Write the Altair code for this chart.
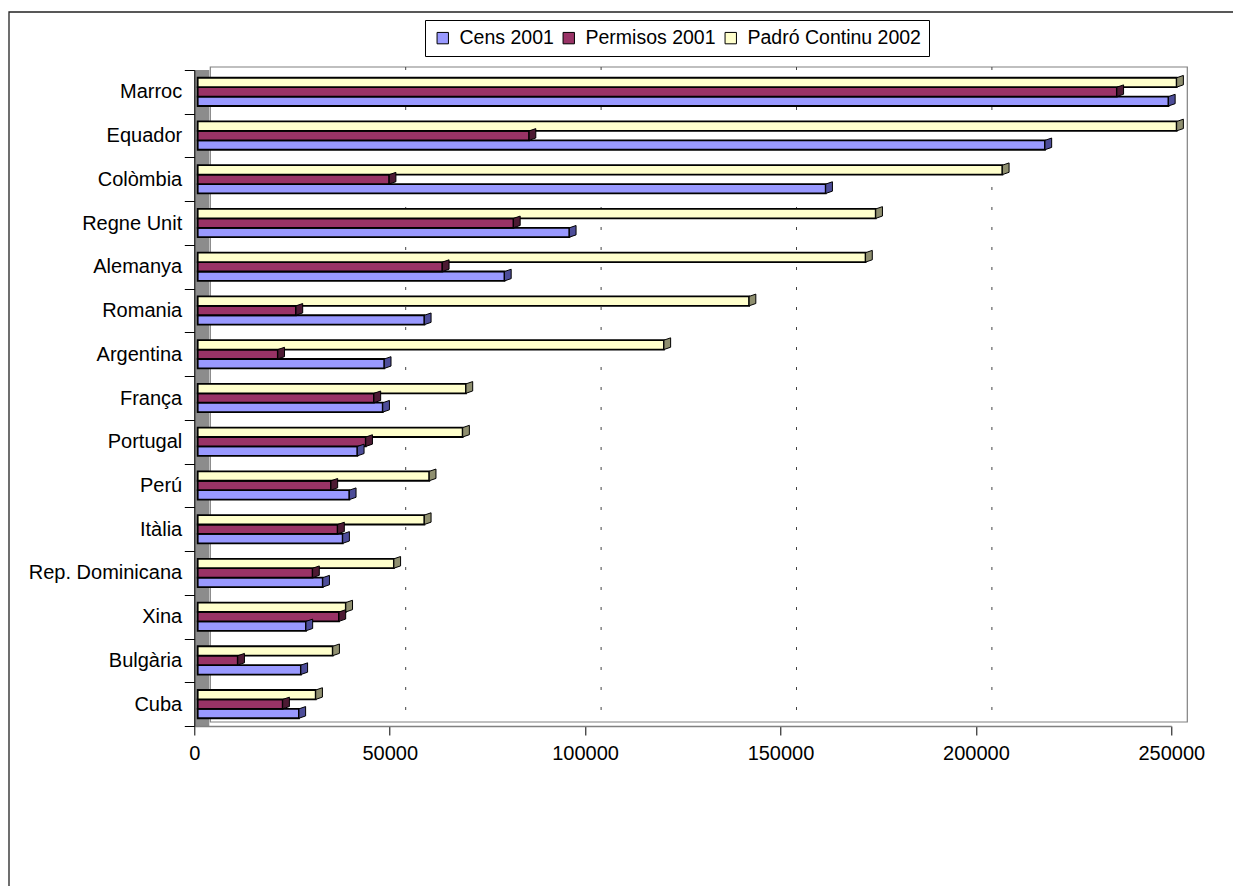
import altair as alt
import pandas as pd

countries = ["Marroc", "Equador", "Colòmbia", "Regne Unit", "Alemanya", "Romania",
             "Argentina", "França", "Portugal", "Perú", "Itàlia", "Rep. Dominicana",
             "Xina", "Bulgària", "Cuba"]
series_names = ["Cens 2001", "Permisos 2001", "Padró Continu 2002"]
cens = [248400, 216800, 160700, 95100, 78500, 58000, 47750, 47350, 40850, 38800,
        37100, 32000, 27700, 26400, 25900]
permisos = [235200, 84800, 49000, 80800, 62600, 25150, 20500, 45100, 43000, 34100,
            35800, 29400, 36150, 10250, 21750]
padro = [250500, 250500, 205900, 173500, 170900, 141100, 119300, 68650, 67800, 59250,
         58000, 50200, 37900, 34550, 30200]
x_ticks = [0, 50000, 100000, 150000, 200000, 250000]
grid_ticks = [50000, 100000, 150000, 200000]

rows = []
for name, vals in zip(series_names, [cens, permisos, padro]):
    for c, v in zip(countries, vals):
        rows.append({"country": c, "series": name, "value": v})
df = pd.DataFrame(rows)
grid_df = pd.DataFrame({"value": grid_ticks})
one = pd.DataFrame({"k": [0]})

FONT = "Liberation Sans"
fill_colors = ["#9999FF", "#993366", "#FFFFCC"]
cap_colors = ["#4D4D99", "#4D1A33", "#8F8F6F"]
offset_order = ["Padró Continu 2002", "Permisos 2001", "Cens 2001"]

xscale = alt.Scale(domain=[0, 250000], nice=False)
yscale = alt.Scale(paddingInner=0, paddingOuter=0)
offscale = alt.Scale(paddingInner=0, paddingOuter=0.82)

outer = alt.Chart(one).mark_rect(fillOpacity=0, stroke="#222222", strokeWidth=1.3).encode(
    x=alt.value(-185.3), x2=alt.value(1200), y=alt.value(-58), y2=alt.value(900))

frame = alt.Chart(one).mark_rect(fillOpacity=0, stroke="#808080", strokeWidth=1.2).encode(
    x=alt.value(16), x2=alt.value(993), y=alt.value(-3), y2=alt.value(652))

grid = alt.Chart(grid_df).mark_rule(xOffset=16, strokeDash=[3, 17], color="#444444",
                                    strokeWidth=1).encode(
    x=alt.X("value:Q", scale=xscale, title=None),
    y=alt.value(-3), y2=alt.value(652))

wall = alt.Chart(one).mark_rect(fill="#8C8C8C").encode(
    x=alt.value(0), x2=alt.value(15), y=alt.value(0), y2=alt.value(656))

bars = alt.Chart(df).mark_bar(stroke="black", strokeWidth=1.8, xOffset=3.4,
                              x2Offset=3.4, opacity=1).encode(
    y=alt.Y("country:N", sort=countries, scale=yscale,
            axis=alt.Axis(title=None, tickBand="extent", tickSize=10, tickColor="black",
                          domainColor="black", labelFontSize=20, labelFont=FONT,
                          labelColor="black", labelPadding=2.6, labelLimit=300,
                          grid=False, zindex=1)),
    yOffset=alt.YOffset("series:N", sort=offset_order, scale=offscale),
    x=alt.X("value:Q", scale=xscale, stack=None, title=None,
            axis=alt.Axis(values=x_ticks, format="d", tickSize=9, tickColor="black",
                          domainColor="#808080", domainWidth=1.5, labelFontSize=20,
                          labelFont=FONT, labelColor="black", labelPadding=8.5,
                          labelFlush=False, grid=False, zindex=1)),
    x2=alt.datum(0),
    fill=alt.Fill("series:N", sort=series_names,
                  scale=alt.Scale(domain=series_names, range=fill_colors),
                  legend=alt.Legend(title=None, orient="none", legendX=230.7, legendY=-50,
                                    direction="horizontal", strokeColor="black",
                                    fillColor="white", padding=8, symbolType="square",
                                    symbolSize=130, symbolStrokeColor="black",
                                    symbolStrokeWidth=1, labelFontSize=19.5,
                                    labelFont=FONT, labelColor="black", labelOffset=7,
                                    labelLimit=400, columnPadding=5, symbolOpacity=1)),
)

cap_path = "M0,-1L1.43,-1.49L1.43,0.51L0,1Z"
caps = alt.Chart(df).mark_point(shape=cap_path, size=88, filled=True, stroke="black",
                                strokeWidth=1, opacity=1, xOffset=3.4).encode(
    y=alt.Y("country:N", sort=countries, scale=yscale),
    yOffset=alt.YOffset("series:N", sort=offset_order, scale=offscale),
    x=alt.X("value:Q", scale=xscale, title=None),
    fill=alt.Fill("series:N", scale=alt.Scale(domain=series_names, range=cap_colors),
                  legend=None),
)

chart = alt.layer(outer, frame, grid, wall, bars, caps).resolve_scale(
    fill="independent"
).properties(
    width=977, height=656,
    autosize=alt.AutoSizeParams(type="none"),
    padding={"left": 186.3, "top": 62, "right": 61.7, "bottom": 160},
    background="white",
).configure_view(strokeWidth=0)

chart.save("out.html", embed_options={"renderer": "svg", "actions": False})
